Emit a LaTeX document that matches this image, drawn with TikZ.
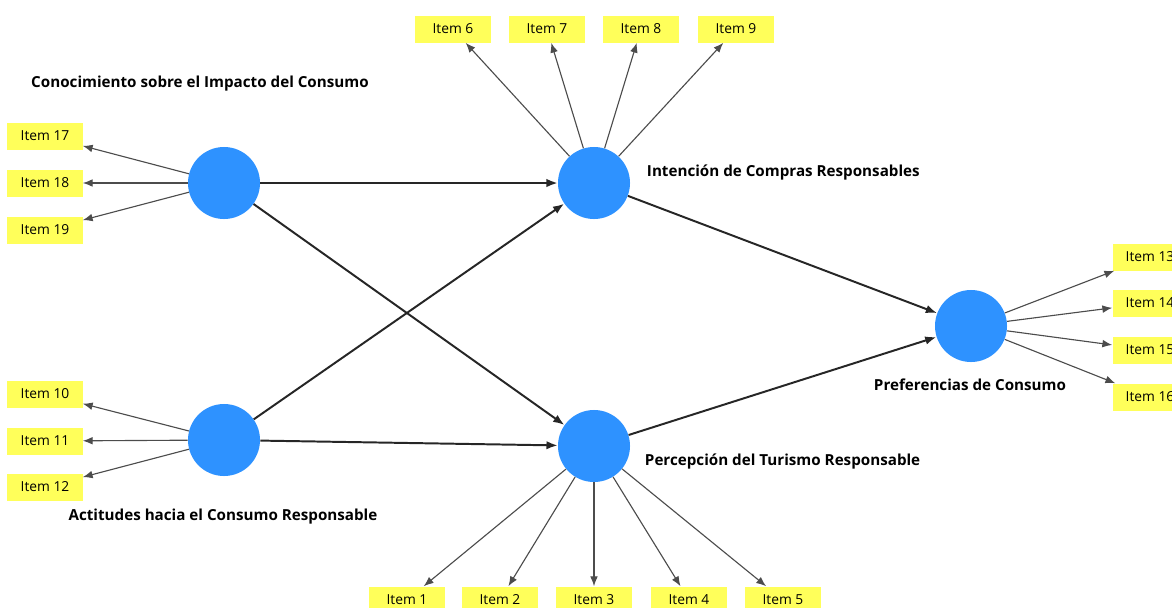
\documentclass[tikz,border=0pt]{standalone}
\usepackage{fontspec}
\setmainfont{Open Sans}
\usetikzlibrary{arrows.meta}
\definecolor{latentblue}{RGB}{46,146,255}
\definecolor{itemyellow}{RGB}{255,255,90}

\begin{document}
\begin{tikzpicture}[x=0.025cm, y=-0.025cm,
    latent/.style={circle, fill=latentblue, minimum size=1.8cm, inner sep=0pt},
    item/.style={rectangle, fill=itemyellow, minimum width=1.875cm, minimum height=0.675cm, inner sep=0pt, font=\fontsize{9.8}{11}\selectfont},
    lbl/.style={font=\fontsize{10.8}{13}\selectfont\bfseries},
    inner/.style={-{Latex[length=8pt, width=6pt]}, line width=1.4pt, black!85},
    outer/.style={-{Latex[length=7pt, width=5.5pt]}, line width=0.8pt, black!70}]
    \clip (0, 0) rectangle (1172, 607);

    % latent variables
    \node (cic) at (224, 183) [latent] {};
    \node (acr) at (224, 440) [latent] {};
    \node (icr) at (594, 183) [latent] {};
    \node (ptr) at (594, 446) [latent] {};
    \node (pc) at (971, 326) [latent] {};

    \node (cicl) at (200, 84) [lbl] {Conocimiento sobre el Impacto del Consumo};
    \node (acrl) at (223, 517) [lbl] {Actitudes hacia el Consumo Responsable};
    \node (icrl) at (642, 173) [lbl, anchor=west] {Intención de Compras Responsables};
    \node (ptrl) at (640, 461) [lbl, anchor=west] {Percepción del Turismo Responsable};
    \node (pcl) at (970, 385) [lbl] {Preferencias de Consumo};

    % items
    \node (i1) at (407, 600) [item] {Item 1};
    \node (i2) at (500, 600) [item] {Item 2};
    \node (i3) at (594, 600) [item] {Item 3};
    \node (i4) at (689, 600) [item] {Item 4};
    \node (i5) at (783, 600) [item] {Item 5};
    \node (i6) at (453, 29) [item] {Item 6};
    \node (i7) at (547, 29) [item] {Item 7};
    \node (i8) at (641, 29) [item] {Item 8};
    \node (i9) at (736, 29) [item] {Item 9};
    \node (i10) at (45, 394) [item] {Item 10};
    \node (i11) at (45, 441) [item] {Item 11};
    \node (i12) at (45, 487) [item] {Item 12};
    \node (i13) at (1150, 257) [item] {Item 13};
    \node (i14) at (1150, 303) [item] {Item 14};
    \node (i15) at (1150, 350) [item] {Item 15};
    \node (i16) at (1150, 397) [item] {Item 16};
    \node (i17) at (45, 136) [item] {Item 17};
    \node (i18) at (45, 183) [item] {Item 18};
    \node (i19) at (45, 230) [item] {Item 19};

    % structural paths
    \draw [inner] (cic) to (icr);
    \draw [inner] (cic) to (ptr);
    \draw [inner] (acr) to (icr);
    \draw [inner] (acr) to (ptr);
    \draw [inner] (icr) to (pc);
    \draw [inner] (ptr) to (pc);

    % loadings
    \draw [outer] (ptr) to (i1);
    \draw [outer] (ptr) to (i2);
    \draw [outer] (ptr) to (i3);
    \draw [outer] (ptr) to (i4);
    \draw [outer] (ptr) to (i5);
    \draw [outer] (icr) to (i6);
    \draw [outer] (icr) to (i7);
    \draw [outer] (icr) to (i8);
    \draw [outer] (icr) to (i9);
    \draw [outer] (acr) to (i10);
    \draw [outer] (acr) to (i11);
    \draw [outer] (acr) to (i12);
    \draw [outer] (pc) to (i13);
    \draw [outer] (pc) to (i14);
    \draw [outer] (pc) to (i15);
    \draw [outer] (pc) to (i16);
    \draw [outer] (cic) to (i17);
    \draw [outer] (cic) to (i18);
    \draw [outer] (cic) to (i19);
\end{tikzpicture}
\end{document}
